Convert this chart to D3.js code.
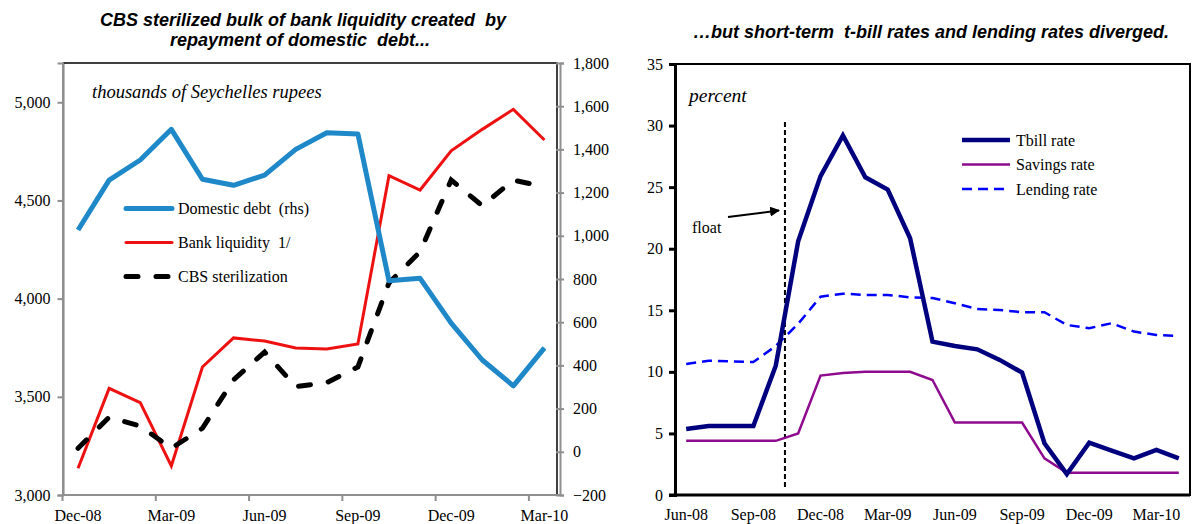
<!DOCTYPE html>
<html>
<head>
<meta charset="utf-8">
<script src="https://cdn.jsdelivr.net/npm/d3@7"></script>
<style>
  body { margin: 0; background: #fff; }
  svg { display: block; }
  text { font-family: "Liberation Serif", "Times New Roman", serif; fill: #000; }
  .titulo { font-family: "Liberation Sans", Arial, sans-serif; font-weight: bold; font-style: italic; font-size: 18px; white-space: pre; }
</style>
</head>
<body>
<svg id="chart" width="1195" height="524"></svg>
<script>
// left panel: monthly, Dec-08 .. Mar-10
const monthsLeft = ["Dec-08", "Jan-09", "Feb-09", "Mar-09", "Apr-09", "May-09", "Jun-09", "Jul-09",
  "Aug-09", "Sep-09", "Oct-09", "Nov-09", "Dec-09", "Jan-10", "Feb-10", "Mar-10"];
const domesticDebt = [1027, 1258, 1351, 1493, 1262, 1234, 1281, 1400, 1477, 1471, 792, 803, 596, 425, 305, 481];
const bankLiquidity = [3136, 3543, 3470, 3148, 3652, 3800, 3784, 3749, 3744, 3769, 4626, 4553, 4753, 4862, 4964, 4808];
const cbsSterilization = [3238, 3396, 3351, 3238, 3340, 3586, 3728, 3552, 3572, 3652, 4080, 4239, 4604, 4473, 4604, 4569];
const ticksLhs = [3000, 3500, 4000, 4500, 5000];
const ticksRhs = [-200, 0, 200, 400, 600, 800, 1000, 1200, 1400, 1600, 1800];

// right panel: monthly, Jun-08 .. Apr-10
const monthsRight = ["Jun-08", "Jul-08", "Aug-08", "Sep-08", "Oct-08", "Nov-08", "Dec-08", "Jan-09",
  "Feb-09", "Mar-09", "Apr-09", "May-09", "Jun-09", "Jul-09", "Aug-09", "Sep-09", "Oct-09", "Nov-09",
  "Dec-09", "Jan-10", "Feb-10", "Mar-10", "Apr-10"];
const tbillRate = [5.36, 5.6, 5.6, 5.6, 10.5, 20.6, 25.9, 29.2, 25.8, 24.8, 20.85, 12.45, 12.1, 11.83,
  10.97, 9.94, 4.2, 1.7, 4.25, 3.6, 2.98, 3.66, 2.98];
const savingsRate = [4.4, 4.4, 4.4, 4.4, 4.4, 5.0, 9.7, 9.9, 10.0, 10.0, 10.0, 9.34, 5.88, 5.88, 5.88,
  5.88, 2.98, 1.81, 1.81, 1.81, 1.81, 1.81, 1.81];
const lendingRate = [10.64, 10.9, 10.85, 10.8, 12.1, 13.9, 16.1, 16.35, 16.25, 16.25, 16.05, 16.0, 15.57,
  15.1, 15.03, 14.84, 14.84, 13.81, 13.54, 13.95, 13.27, 13.0, 12.92];
const ticksPct = [0, 5, 10, 15, 20, 25, 30, 35];

const svg = d3.select("#chart");
const fmt = d3.format(",");

// ---------- left panel ----------
const L = { x0: 62.5, x1: 560, y0: 63, y1: 495 };
const xL = d3.scaleBand().domain(monthsLeft).range([L.x0, L.x1]);
const cxL = (m) => xL(m) + xL.bandwidth() / 2;
const yLhs = d3.scaleLinear().domain([3000, 5200]).range([L.y1, L.y0]);
const yRhs = d3.scaleLinear().domain([-200, 1800]).range([L.y1, L.y0]);
const every3L = monthsLeft.filter((d, i) => i % 3 === 0);

svg.append("text").attr("class", "titulo").attr("x", 303).attr("y", 26).attr("text-anchor", "middle")
  .text("CBS sterilized bulk of bank liquidity created  by");
svg.append("text").attr("class", "titulo").attr("x", 300).attr("y", 46).attr("text-anchor", "middle")
  .text("repayment of domestic  debt...");

svg.append("rect")
  .attr("x", L.x0 + 1).attr("y", L.y0)
  .attr("width", L.x1 - L.x0 - 4).attr("height", L.y1 - L.y0)
  .attr("fill", "none").attr("stroke", "#000").attr("stroke-width", 1.5);

const grey = "#8f8f8f";

svg.append("g")
  .attr("transform", `translate(${L.x0},0)`)
  .call(d3.axisLeft(yLhs).tickValues(ticksLhs).tickSize(5).tickPadding(7).tickFormat(fmt))
  .call((sel) => sel.selectAll("line,.domain").attr("stroke", grey).attr("stroke-width", 2))
  .call((sel) => sel.selectAll("text").attr("font-size", "16px").attr("font-family", "Liberation Serif"));

svg.append("g")
  .attr("transform", `translate(${L.x1},0)`)
  .call(d3.axisRight(yRhs).tickValues(ticksRhs).tickSize(4).tickPadding(9).tickFormat(fmt))
  .call((sel) => sel.selectAll("line,.domain").attr("stroke", grey).attr("stroke-width", 2))
  .call((sel) => sel.selectAll(".tick line").attr("x1", -4))
  .call((sel) => sel.selectAll("text").attr("font-size", "16px").attr("font-family", "Liberation Serif"));

const axBottomL = svg.append("g").attr("transform", `translate(0,${L.y1})`);
axBottomL.append("line").attr("x1", L.x0).attr("x2", L.x1).attr("stroke", grey).attr("stroke-width", 2);
axBottomL.selectAll("line.tk").data(every3L).join("line").attr("class", "tk")
  .attr("x1", (d) => xL(d)).attr("x2", (d) => xL(d)).attr("y1", 0).attr("y2", 6)
  .attr("stroke", grey).attr("stroke-width", 2);
axBottomL.selectAll("text").data(every3L).join("text")
  .attr("x", cxL).attr("y", 26).attr("text-anchor", "middle").attr("font-size", "16px").text((d) => d);

svg.append("text").attr("x", 92).attr("y", 98).attr("font-size", "18.5px").attr("font-style", "italic")
  .text("thousands of Seychelles rupees");

const lineRhs = d3.line().x((d, i) => cxL(monthsLeft[i])).y((d) => yRhs(d));
const lineLhs = d3.line().x((d, i) => cxL(monthsLeft[i])).y((d) => yLhs(d));

svg.append("path").datum(bankLiquidity).attr("d", lineLhs)
  .attr("fill", "none").attr("stroke", "#ee1111").attr("stroke-width", 3);
svg.append("path").datum(cbsSterilization).attr("d", lineLhs)
  .attr("fill", "none").attr("stroke", "#000").attr("stroke-width", 5)
  .attr("stroke-dasharray", "12,18").attr("stroke-linecap", "round");
svg.append("path").datum(domesticDebt).attr("d", lineRhs)
  .attr("fill", "none").attr("stroke", "#1f88c8").attr("stroke-width", 5).attr("stroke-linejoin", "round");

const legendL = [
  { label: "Domestic debt  (rhs)", color: "#1f88c8", width: 5, dash: null, y: 208.5 },
  { label: "Bank liquidity  1/", color: "#ee1111", width: 3, dash: null, y: 242.5 },
  { label: "CBS sterilization", color: "#000", width: 5, dash: "12,18", y: 276.5 }
];
const lgL = svg.append("g").selectAll("g").data(legendL).join("g");
lgL.append("line").attr("x1", 126).attr("x2", 172).attr("y1", (d) => d.y).attr("y2", (d) => d.y)
  .attr("stroke", (d) => d.color).attr("stroke-width", (d) => d.width)
  .attr("stroke-dasharray", (d) => d.dash).attr("stroke-linecap", "round");
lgL.append("text").attr("x", 178).attr("y", (d) => d.y + 5.5).attr("font-size", "16px")
  .style("white-space", "pre").text((d) => d.label);

// ---------- right panel ----------
const R = { x0: 675, x1: 1190, y0: 64, y1: 495 };
const xR = d3.scaleBand().domain(monthsRight).range([R.x0, R.x1]);
const cxR = (m) => xR(m) + xR.bandwidth() / 2;
const yPct = d3.scaleLinear().domain([0, 35]).range([R.y1, R.y0]);
const every3R = monthsRight.filter((d, i) => i % 3 === 0 && i < 22);

svg.append("text").attr("class", "titulo").attr("x", 931).attr("y", 38).attr("text-anchor", "middle")
  .text("…but short-term  t-bill rates and lending rates diverged.");

svg.append("rect")
  .attr("x", R.x0).attr("y", R.y0).attr("width", R.x1 - R.x0).attr("height", R.y1 - R.y0)
  .attr("fill", "none").attr("stroke", "#000").attr("stroke-width", 2);

svg.append("g")
  .attr("transform", `translate(${R.x0},0)`)
  .call(d3.axisLeft(yPct).tickValues(ticksPct).tickSize(6).tickPadding(6))
  .call((sel) => sel.selectAll("line,.domain").attr("stroke", "#000").attr("stroke-width", 3))
  .call((sel) => sel.selectAll("text").attr("font-size", "16px").attr("font-family", "Liberation Serif"));

svg.append("line").attr("x1", R.x0 - 6).attr("x2", R.x1).attr("y1", R.y1).attr("y2", R.y1)
  .attr("stroke", "#000").attr("stroke-width", 3);
svg.append("g").selectAll("text").data(every3R).join("text")
  .attr("x", cxR).attr("y", R.y1 + 25).attr("text-anchor", "middle").attr("font-size", "16px").text((d) => d);

svg.append("text").attr("x", 689).attr("y", 102).attr("font-size", "19.5px").attr("font-style", "italic").text("percent");

// float marker: between Oct-08 and Nov-08
svg.append("line")
  .attr("x1", xR("Oct-08") + xR.bandwidth() * 0.91).attr("x2", xR("Oct-08") + xR.bandwidth() * 0.91)
  .attr("y1", yPct(30.3)).attr("y2", yPct(0.55))
  .attr("stroke", "#000").attr("stroke-width", 2).attr("stroke-dasharray", "5,3");
svg.append("defs").append("marker").attr("id", "arrow").attr("viewBox", "0 0 10 10")
  .attr("refX", 9).attr("refY", 5).attr("markerWidth", 5).attr("markerHeight", 5).attr("orient", "auto")
  .append("path").attr("d", "M0,0L10,5L0,10z").attr("fill", "#000");
svg.append("line").attr("x1", 728).attr("y1", 217).attr("x2", 779).attr("y2", 210.5)
  .attr("stroke", "#000").attr("stroke-width", 2).attr("marker-end", "url(#arrow)");
svg.append("text").attr("x", 692).attr("y", 233).attr("font-size", "16px").text("float");

const lineR = d3.line().x((d, i) => cxR(monthsRight[i])).y((d) => yPct(d));

svg.append("path").datum(lendingRate).attr("d", lineR)
  .attr("fill", "none").attr("stroke", "#0000ff").attr("stroke-width", 2.5).attr("stroke-dasharray", "10,6");
svg.append("path").datum(savingsRate).attr("d", lineR)
  .attr("fill", "none").attr("stroke", "#8e0a8e").attr("stroke-width", 2.5);
svg.append("path").datum(tbillRate).attr("d", lineR)
  .attr("fill", "none").attr("stroke", "#00007f").attr("stroke-width", 4.5);

const legendR = [
  { label: "Tbill rate", color: "#00007f", width: 4.5, dash: null, y: 140 },
  { label: "Savings rate", color: "#8e0a8e", width: 2.5, dash: null, y: 164.5 },
  { label: "Lending rate", color: "#0000ff", width: 2.5, dash: "10,6", y: 189 }
];
const lgR = svg.append("g").selectAll("g").data(legendR).join("g");
lgR.append("line").attr("x1", 962).attr("x2", 1010).attr("y1", (d) => d.y).attr("y2", (d) => d.y)
  .attr("stroke", (d) => d.color).attr("stroke-width", (d) => d.width).attr("stroke-dasharray", (d) => d.dash);
lgR.append("text").attr("x", 1016).attr("y", (d) => d.y + 5.5).attr("font-size", "16px").text((d) => d.label);
</script>
</body>
</html>
